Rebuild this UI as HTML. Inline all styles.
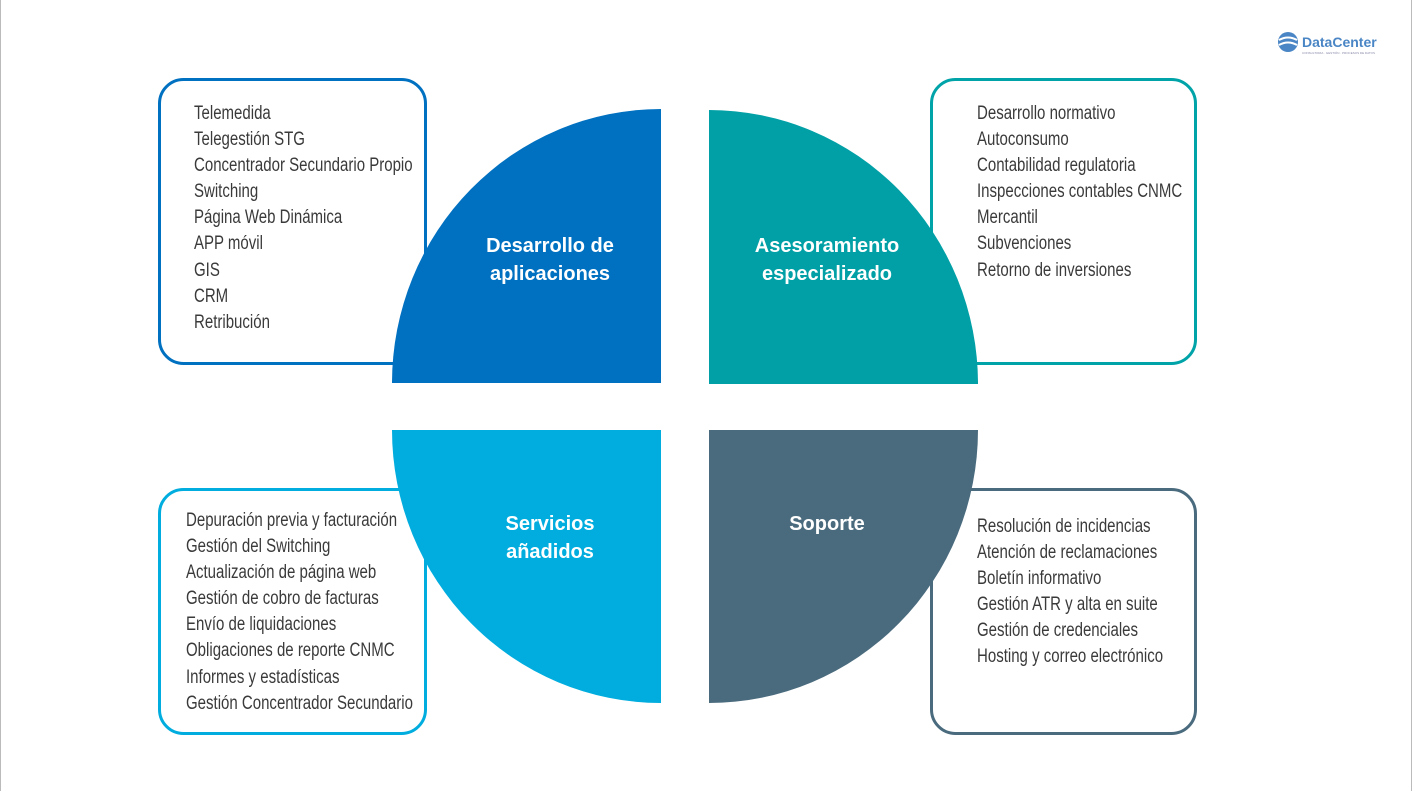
<!DOCTYPE html>
<html><head><meta charset="utf-8"><style>
html,body{margin:0;padding:0;background:#fff}
.wrap{position:relative;width:1412px;height:791px;overflow:hidden;border-left:1px solid #bbb;border-right:1px solid #bbb;box-sizing:border-box}
.list{position:absolute;font-family:"Liberation Sans",sans-serif;font-size:19px;line-height:26.1px;color:#3a3a3a;transform:scaleX(0.79);transform-origin:0 0;white-space:nowrap}
.t{position:absolute;font-family:"Liberation Sans",sans-serif;font-size:20px;font-weight:bold;color:#fff;text-align:center;line-height:28px;width:220px}
</style></head><body><div class="wrap">
<svg width="1412" height="791" style="position:absolute;left:0;top:0">
<rect x="158.5" y="79.5" width="266" height="284" rx="24" fill="#fff" stroke="#0070C0" stroke-width="3"/>
<rect x="930.5" y="79.5" width="264" height="284" rx="24" fill="#fff" stroke="#00A3A8" stroke-width="3"/>
<rect x="158.5" y="489.5" width="266" height="244" rx="24" fill="#fff" stroke="#00ADDE" stroke-width="3"/>
<rect x="930.5" y="489.5" width="264" height="244" rx="24" fill="#fff" stroke="#4A6B7E" stroke-width="3"/>
<path d="M660,383 L391,383 A269,274 0 0 1 660,109 Z" fill="#0070C0"/>
<path d="M708,384 L708,110 A269,274 0 0 1 977,384 Z" fill="#00A0A6"/>
<path d="M660,430 L660,703 A269,273 0 0 1 391,430 Z" fill="#00ADDE"/>
<path d="M708,430 L977,430 A269,273 0 0 1 708,703 Z" fill="#4A6B7E"/>
<g transform="translate(1277,32)">
<circle cx="10" cy="10" r="10" fill="#4a86c5"/>
<path d="M1,8 Q10,3 19,8 M1,13 Q10,8 19,13" stroke="#fff" stroke-width="2" fill="none"/>
<text x="24" y="15" font-family="Liberation Sans,sans-serif" font-weight="bold" font-size="14" fill="#4a86c5">DataCenter</text>
<text x="24" y="22" font-family="Liberation Sans,sans-serif" font-size="3" fill="#88a">CONSULTORIA · GESTIÓN · PROCESOS DE DATOS</text>
</g>
</svg>
<div class="t" style="left:439px;top:232px">Desarrollo de<br>aplicaciones</div>
<div class="t" style="left:716px;top:232px">Asesoramiento<br>especializado</div>
<div class="t" style="left:439px;top:510px">Servicios<br>añadidos</div>
<div class="t" style="left:716px;top:510px">Soporte</div>
<div class="list" style="left:193px;top:101px">Telemedida<br>Telegestión STG<br>Concentrador Secundario Propio<br>Switching<br>Página Web Dinámica<br>APP móvil<br>GIS<br>CRM<br>Retribución</div>
<div class="list" style="left:976px;top:101px">Desarrollo normativo<br>Autoconsumo<br>Contabilidad regulatoria<br>Inspecciones contables CNMC<br>Mercantil<br>Subvenciones<br>Retorno de inversiones</div>
<div class="list" style="left:185px;top:508px">Depuración previa y facturación<br>Gestión del Switching<br>Actualización de página web<br>Gestión de cobro de facturas<br>Envío de liquidaciones<br>Obligaciones de reporte CNMC<br>Informes y estadísticas<br>Gestión Concentrador Secundario</div>
<div class="list" style="left:976px;top:514px">Resolución de incidencias<br>Atención de reclamaciones<br>Boletín informativo<br>Gestión ATR y alta en suite<br>Gestión de credenciales<br>Hosting y correo electrónico</div>
</div></body></html>
